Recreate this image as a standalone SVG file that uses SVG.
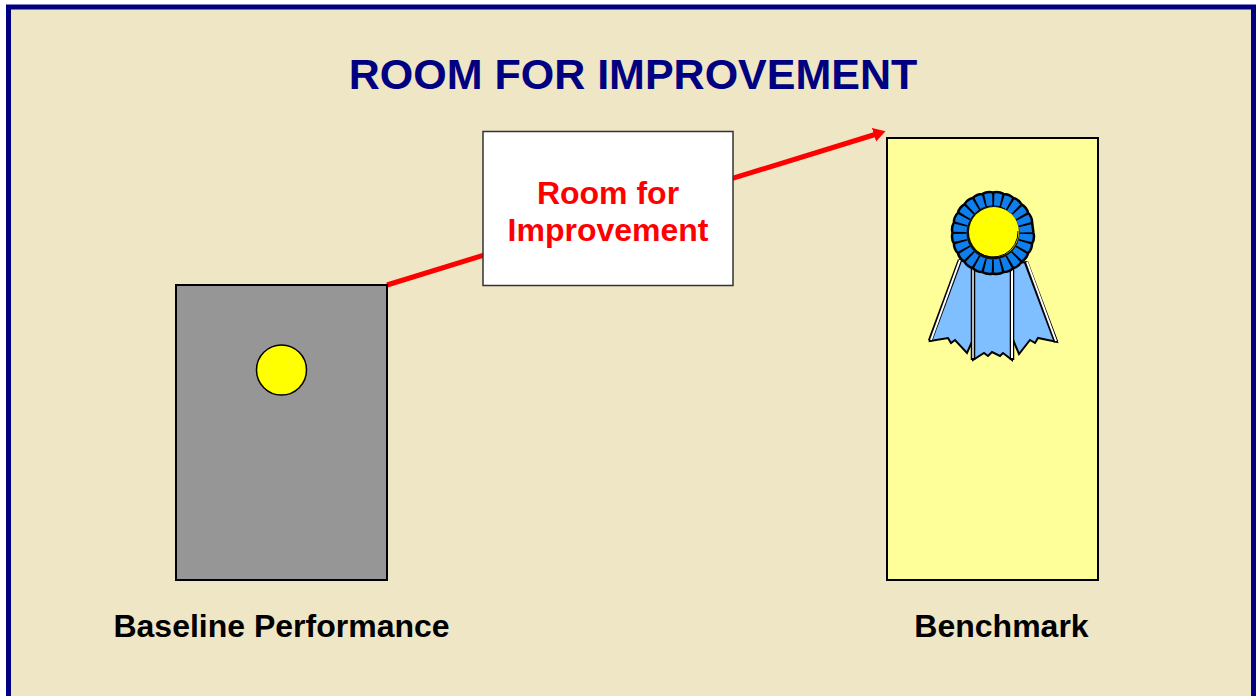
<svg xmlns="http://www.w3.org/2000/svg" width="1256" height="696" viewBox="0 0 1256 696">
<style>
text{font-family:"Liberation Sans",Arial,sans-serif;font-weight:bold;text-anchor:middle}
.lbl{font-size:32px;fill:#000}
.red{font-size:32px;fill:#f00}
.box{stroke:#000;stroke-width:2}
.rib{fill:#80bfff;stroke:#000;stroke-width:2;stroke-linejoin:miter}
.edge{fill:none;stroke:#000;stroke-width:4.500}
.edgew{fill:none;stroke:#fff;stroke-width:2}
</style>
<defs>
<marker id="arrow" markerUnits="userSpaceOnUse" markerWidth="13" markerHeight="15" refX="1" refY="7.500" orient="auto"><path d="M0 0.500L12 7.500L0 14.500Z" fill="#f00"/></marker>
</defs>
<rect width="1256" height="696" fill="#fff"/>
<rect x="8.500" y="7" width="1245" height="720" fill="#efe6c6" stroke="#000080" stroke-width="5"/>
<text id="title" x="633" y="89" style="font-size:43px" fill="#000080">ROOM FOR IMPROVEMENT</text>
<g id="connectors">
<path d="M387 285L875 134.500" fill="none" stroke="#f00" stroke-width="5" marker-end="url(#arrow)"/>
</g>
<g id="callout">
<rect x="483" y="131.500" width="250" height="154" fill="#fff" stroke="#333" stroke-width="1.500"/>
<text class="red" x="608" y="204">Room for</text>
<text class="red" x="608" y="241">Improvement</text>
</g>
<g id="baseline">
<rect class="box" x="176" y="285" width="211" height="295" fill="#969696"/>
<circle cx="281.500" cy="370" r="25" fill="#ff0" stroke="#000" stroke-width="1.500"/>
<text class="lbl" x="281.500" y="637">Baseline Performance</text>
</g>
<g id="benchmark">
<rect class="box" x="887" y="138" width="211" height="442" fill="#ffff99"/>
<g id="ribbon">
<path class="rib" d="M960 260L930 341L948 338L951 343L955 340L967 353L975 335L985 265Z"/>
<path class="edge" d="M960 260L930 341"/><path class="edgew" d="M960 260L931 340"/>
<path class="rib" d="M1026 262L1057 342L1038 338L1035 343L1030 340L1019 354L1011 335L1000 265Z"/>
<path class="edge" d="M1026 262L1056 342"/><path class="edgew" d="M1027 262L1056 341"/>
<path class="rib" d="M973 268L973 360L984 353L988 356L992 352L1000 356L1003 353L1012 360L1012 268Z"/>
<path class="edge" d="M973 268V360M1012 268V360"/>
<path d="M973 268V358" stroke="#bbb" stroke-width="2" fill="none"/>
<path d="M1012 268V358" stroke="#fff" stroke-width="2" fill="none"/>
<path d="M1033.500 233A14 14 0 0 1 1032.100 243.500A14 14 0 0 1 1028.100 253.250A14 14 0 0 1 1021.600 261.600A14 14 0 0 1 1013.250 268.100A14 14 0 0 1 1003.500 272.100A14 14 0 0 1 993 273.500A14 14 0 0 1 982.500 272.100A14 14 0 0 1 972.750 268.100A14 14 0 0 1 964.400 261.600A14 14 0 0 1 957.900 253.250A14 14 0 0 1 953.900 243.500A14 14 0 0 1 952.500 233A14 14 0 0 1 953.900 222.500A14 14 0 0 1 957.900 212.750A14 14 0 0 1 964.400 204.400A14 14 0 0 1 972.750 197.900A14 14 0 0 1 982.500 193.900A14 14 0 0 1 993 192.500A14 14 0 0 1 1003.500 193.900A14 14 0 0 1 1013.250 197.900A14 14 0 0 1 1021.600 204.400A14 14 0 0 1 1028.100 212.750A14 14 0 0 1 1032.100 222.500Z" fill="#0f7fee" stroke="#000" stroke-width="2.500"/>
<circle cx="993" cy="233" r="33.500" fill="none" stroke="#000" stroke-width="14" stroke-dasharray="2 6.770" stroke-dashoffset="1"/>
<circle cx="993" cy="233" r="26.500" fill="#111" stroke="none"/>
<circle cx="994" cy="232" r="25" fill="#ff0" stroke="none"/>
<path d="M971 219A25 25 0 0 1 1005 209M1018 231A25 25 0 0 1 978 252" fill="none" stroke="#000" stroke-width="1"/>
</g>
<text class="lbl" x="1001.500" y="637">Benchmark</text>
</g>
</svg>
